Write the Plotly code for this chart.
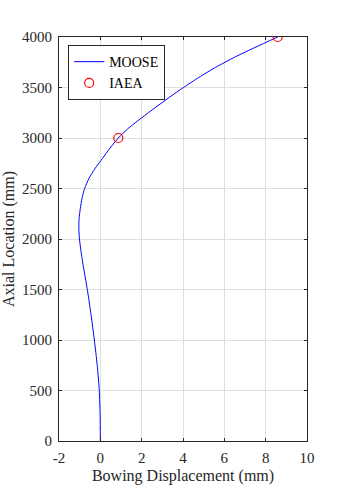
import plotly.graph_objects as go

# MOOSE curve (axial location in mm, bowing displacement in mm)
moose_y = [0, 250, 500, 750, 1000, 1250, 1500, 1750, 1900, 2000, 2100, 2200, 2300, 2400,
           2500, 2600, 2700, 2800, 2900, 3000, 3100, 3200, 3300, 3400, 3500, 3600,
           3700, 3800, 3900, 4000]
moose_x = [0.0, -0.01, -0.05, -0.15, -0.29, -0.45, -0.63, -0.84, -0.95, -1.01, -1.04, -1.03,
           -0.97, -0.89, -0.76, -0.55, -0.25, 0.11, 0.47, 0.87, 1.38, 2.0, 2.65, 3.32,
           4.02, 4.77, 5.58, 6.50, 7.52, 8.58]

# IAEA reference points
iaea_x = [0.87, 8.58]
iaea_y = [3000, 4000]

x_ticks = [-2, 0, 2, 4, 6, 8, 10]
y_ticks = [0, 500, 1000, 1500, 2000, 2500, 3000, 3500, 4000]

font_family = "Liberation Serif, Times New Roman, serif"

fig = go.Figure()
fig.add_trace(go.Scatter(x=moose_x, y=moose_y, mode="lines", name="MOOSE",
                         line=dict(color="#0000ff", width=1, shape="spline", smoothing=0.6)))
fig.add_trace(go.Scatter(x=iaea_x, y=iaea_y, mode="markers", name="IAEA",
                         marker=dict(symbol="circle-open", size=9, color="#ff0000",
                                     line=dict(width=1.2, color="#ff0000"))))

axis_common = dict(showline=True, linecolor="#262626", linewidth=1, mirror="allticks",
                   ticks="inside", ticklen=3, tickcolor="#262626", automargin=False,
                   showgrid=True, gridcolor="#dfdfdf", gridwidth=1, zeroline=False,
                   tickfont=dict(family=font_family, size=15, color="#262626"))

fig.update_layout(
    width=340, height=497,
    margin=dict(l=59, r=33, t=37, b=56),
    paper_bgcolor="white", plot_bgcolor="white",
    font=dict(family=font_family, color="#262626"),
    xaxis=dict(range=[-2, 10], tickvals=x_ticks, ticktext=[str(v) for v in x_ticks],
               ticklabelstandoff=3,
               title=dict(text="Bowing Displacement (mm)", font=dict(family=font_family, size=16, color="#262626"),
                          standoff=4),
               **axis_common),
    yaxis=dict(range=[0, 4000], tickvals=y_ticks, ticktext=[str(v) for v in y_ticks],
               ticklabelstandoff=3,
               title=dict(text="Axial Location (mm)", font=dict(family=font_family, size=16, color="#262626"),
                          standoff=5),
               **axis_common),
    legend=dict(x=0.037, y=0.98, xanchor="left", yanchor="top",
                bgcolor="white", bordercolor="#262626", borderwidth=1,
                font=dict(family=font_family, size=14, color="#000000"),
                tracegroupgap=0),
    showlegend=True,
)

fig.write_html("out.html")
